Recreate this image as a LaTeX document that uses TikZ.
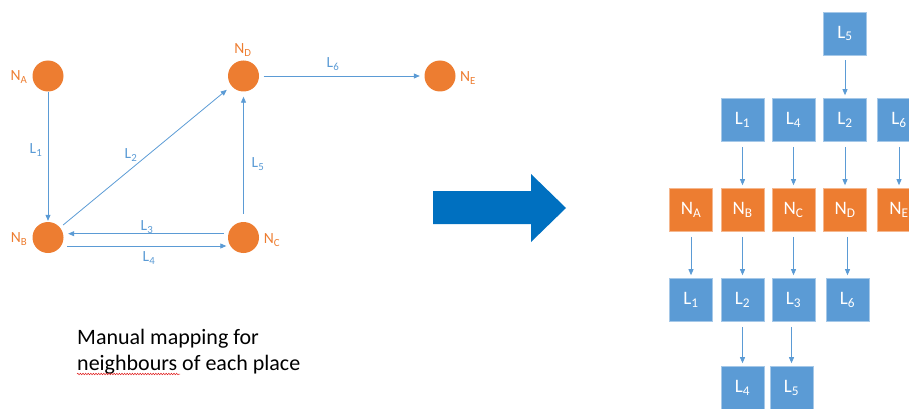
\documentclass[tikz,border=0pt]{standalone}
\usepackage{fontspec}
\setmainfont{Carlito}
\usetikzlibrary{arrows.meta,decorations.pathmorphing}
\definecolor{nodeorange}{HTML}{ED7D31}
\definecolor{linkblue}{HTML}{5B9BD5}
\definecolor{bigarrow}{HTML}{0070C0}
\definecolor{spellred}{HTML}{E02020}
\begin{document}
\begin{tikzpicture}[x=1pt,y=-1pt,
  place/.style={circle,fill=nodeorange,minimum size=31pt,inner sep=0pt},
  placelabel/.style={text=nodeorange,font=\fontsize{15.5}{18}\selectfont,inner sep=0pt},
  linklabel/.style={text=linkblue,font=\fontsize{15.5}{18}\selectfont,inner sep=0pt},
  link/.style={draw=linkblue,line width=0.8pt,-{Triangle[length=6pt,width=5pt]}},
  lbox/.style={rectangle,fill=linkblue,draw=linkblue!55!white,line width=0.6pt,
    minimum size=43pt,inner sep=0pt,text=white,font=\fontsize{19}{22}\selectfont},
  nbox/.style={lbox,fill=nodeorange,draw=nodeorange!55!white},
  flow/.style={link,shorten <=5pt,shorten >=3pt},
  caption/.style={anchor=base west,inner sep=0pt,font=\fontsize{22}{26}\selectfont}]
\useasboundingbox (0,0) rectangle (909,409);

% ---- place graph ----
\node[place] (NA) at (48,76) {};
\node[place] (NB) at (48,237.5) {};
\node[place] (NC) at (243.5,237.5) {};
\node[place] (ND) at (243.5,76) {};
\node[place] (NE) at (440,76) {};

\node[placelabel] at (19,77) {N\textsubscript{A}};
\node[placelabel] at (19,239) {N\textsubscript{B}};
\node[placelabel] at (272,240) {N\textsubscript{C}};
\node[placelabel] at (243,50) {N\textsubscript{D}};
\node[placelabel] at (468,78) {N\textsubscript{E}};

\draw[link,shorten >=1pt] (NA) -- (NB);
\draw[link,shorten <=4pt,shorten >=6pt] (NB) -- (ND);
\draw[link,shorten <=4pt,shorten >=4.5pt] ([yshift=3.8pt]NC.west) -- ([yshift=3.8pt]NB.east);
\draw[link,shorten <=3.5pt,shorten >=1.5pt] ([yshift=-8.5pt]NB.east) -- ([yshift=-8.5pt]NC.west);
\draw[link,shorten <=8pt,shorten >=5pt] (NC) -- (ND);
\draw[link,shorten <=4.5pt,shorten >=4.5pt] (ND) -- (NE);

\node[linklabel] at (36,150) {L\textsubscript{1}};
\node[linklabel] at (131,155) {L\textsubscript{2}};
\node[linklabel] at (147,227) {L\textsubscript{3}};
\node[linklabel] at (149,258) {L\textsubscript{4}};
\node[linklabel] at (258,164) {L\textsubscript{5}};
\node[linklabel] at (333,64) {L\textsubscript{6}};

% ---- caption ----
\node[caption] (cap1) at (77,344) {Manual mapping for};
\node[caption] (cap2) at (77,370) {neighbours of each place};
\draw[spellred,line width=0.5pt,decorate,
  decoration={snake,amplitude=0.8pt,segment length=2.6pt}]
  (77,374) -- (180,374);

% ---- transition arrow ----
\fill[bigarrow] (433,191) -- (531,191) -- (531,174) -- (566,208)
  -- (531,242) -- (531,224) -- (433,224) -- cycle;

% ---- neighbour table ----
\node[lbox] (tL5) at (845,33.5) {L\textsubscript{5}};

\node[lbox] (aL1) at (742.5,120) {L\textsubscript{1}};
\node[lbox] (aL4) at (793.5,120) {L\textsubscript{4}};
\node[lbox] (aL2) at (845,120) {L\textsubscript{2}};
\node[lbox] (aL6) at (899,120) {L\textsubscript{6}};

\node[nbox] (bNA) at (691,210) {N\textsubscript{A}};
\node[nbox] (bNB) at (742.5,210) {N\textsubscript{B}};
\node[nbox] (bNC) at (793.5,210) {N\textsubscript{C}};
\node[nbox] (bND) at (845,210) {N\textsubscript{D}};
\node[nbox] (bNE) at (899,210) {N\textsubscript{E}};

\node[lbox] (cL1) at (691,300) {L\textsubscript{1}};
\node[lbox] (cL2) at (742.5,300) {L\textsubscript{2}};
\node[lbox] (cL3) at (793.5,300) {L\textsubscript{3}};
\node[lbox] (cL6) at (847.5,300) {L\textsubscript{6}};

\node[lbox] (dL4) at (742.5,388) {L\textsubscript{4}};
\node[lbox] (dL5) at (791.5,388) {L\textsubscript{5}};

\draw[flow] (tL5) -- (aL2);
\draw[flow] (aL1) -- (bNB);
\draw[flow] (aL4) -- (bNC);
\draw[flow] (aL2) -- (bND);
\draw[flow] (aL6) -- (bNE);
\draw[flow] (bNA) -- (cL1);
\draw[flow] (bNB) -- (cL2);
\draw[flow] (bNC) -- (cL3);
\draw[flow] (bND.south -| cL6.north) -- (cL6.north);
\draw[flow] (cL2) -- (dL4);
\draw[flow] (cL3.south -| dL5.north) -- (dL5.north);
\end{tikzpicture}
\end{document}
